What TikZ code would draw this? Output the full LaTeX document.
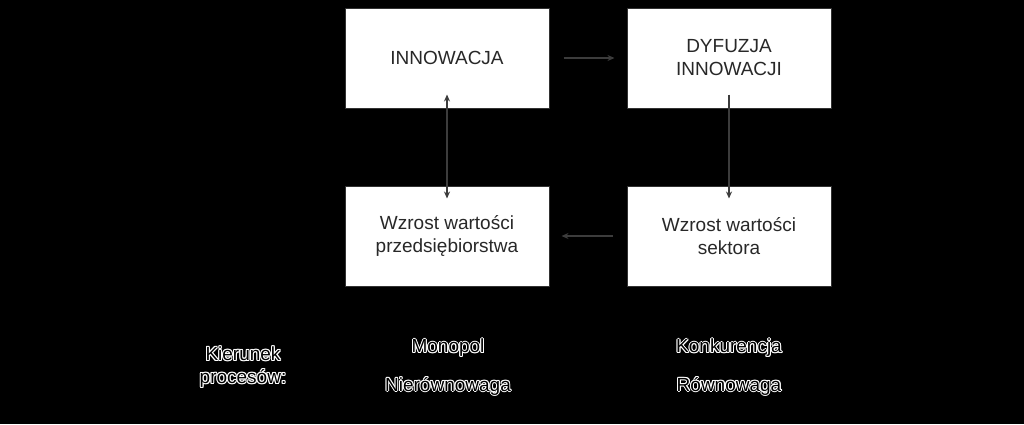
\documentclass[tikz,border=0pt]{standalone}
\usepackage{fontspec}
\setmainfont{Liberation Sans}
\usetikzlibrary{arrows.meta}
\tikzset{
  box/.style={draw={rgb,255:red,50;green,50;blue,50}, line width=1pt, fill=white, minimum width=204pt, minimum height=100pt, align=center, font=\fontsize{19}{23}\selectfont, text={rgb,255:red,40;green,40;blue,40}},
  flow/.style={-{Stealth[length=7pt,width=6pt]}, line width=1.3pt, draw={rgb,255:red,60;green,60;blue,60}},
  halo/.style={font=\fontsize{19}{23}\selectfont, align=center, inner sep=0pt}
}
\newcommand{\halotext}[3]{%
  \foreach \dx/\dy in {-1/0,1/0,0/-1,0/1,-0.8/-0.8,0.8/0.8,-0.8/0.8,0.8/-0.8}
    \node[halo, text=white] at ([shift={(\dx,\dy)}]#1) {#3};
  \node[halo, text=black] (#2) at (#1) {#3};}
\begin{document}
\begin{tikzpicture}[x=1pt,y=-1pt]
\fill[black] (0,0) rectangle (1024,424);
\useasboundingbox (0,0) rectangle (1024,424);

% boxes
\node[box] (inn) at (447,58) {INNOWACJA};
\node[box] (dyf) at (729,58) {DYFUZJA\\INNOWACJI};
\node[box] (prz) at (447,236) {Wzrost wartości\\przedsiębiorstwa};
\node[box] (sek) at (729,236) {Wzrost wartości\\sektora};

% arrows
\draw[flow] ([xshift=14pt]inn.east) -- ([xshift=-12pt]dyf.west);
\draw[flow] ([yshift=14pt]dyf.south) -- ([yshift=-13pt]sek.north);
\draw[flow] ([xshift=-14pt]sek.west) -- ([xshift=12pt]prz.east);
\draw[flow, {Stealth[length=7pt,width=6pt]}-{Stealth[length=7pt,width=6pt]}] ([yshift=14pt]inn.south) -- ([yshift=-13pt]prz.north);

% labels
\halotext{243,367}{kier}{Kierunek\\procesów:}
\halotext{448,348}{mon}{Monopol}
\halotext{448,386}{nier}{Nierównowaga}
\halotext{729,348}{konk}{Konkurencja}
\halotext{729,386}{row}{Równowaga}
\end{tikzpicture}
\end{document}
